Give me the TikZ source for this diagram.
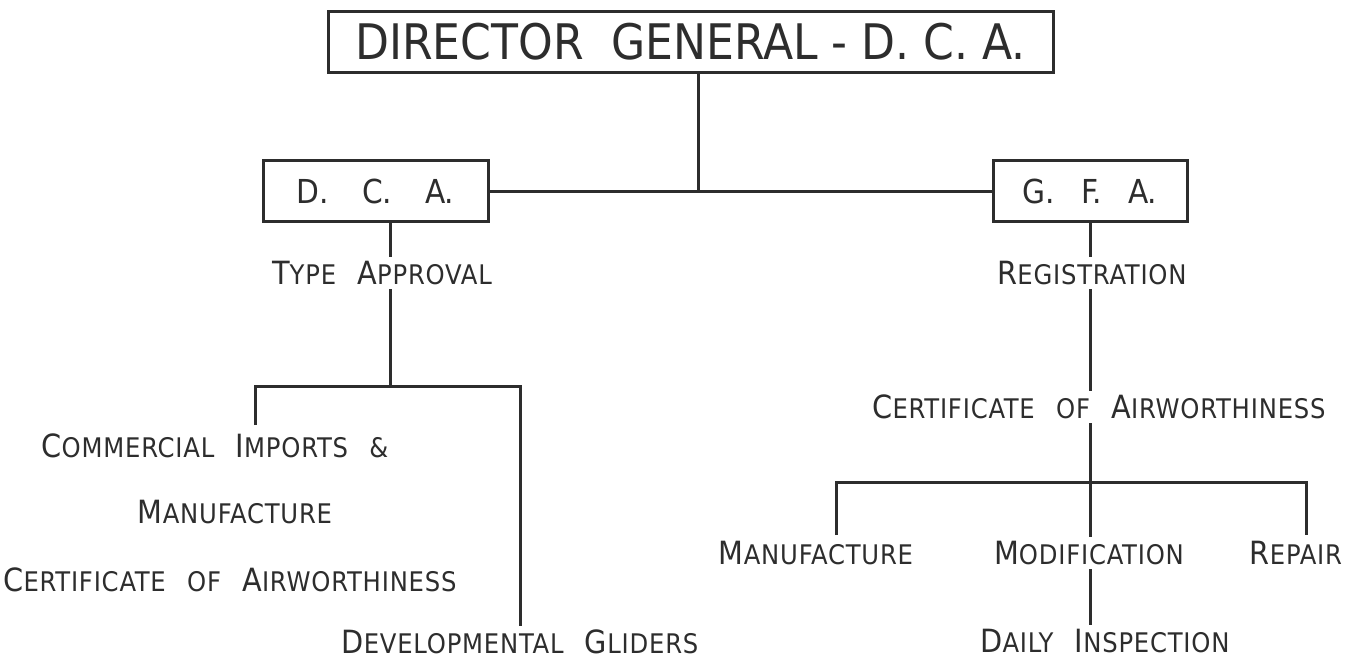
\documentclass[tikz,border=0pt]{standalone}
\usepackage{fontspec}
\setmainfont{DejaVu Sans Condensed}[LetterSpace=3,WordSpace=2.5]
\newfontfamily\headfont{DejaVu Sans Condensed}
\usepackage{tikz}
\usetikzlibrary{positioning}
\definecolor{inkDark}{RGB}{45,45,45}
\newcommand{\Lc}[1]{{\fontsize{32}{34}\selectfont #1}}

\begin{document}
\begin{tikzpicture}[x=1pt,y=-1pt,
  every node/.style={text=inkDark, font=\fontsize{27}{30}\selectfont, inner sep=4pt},
  label/.style={text height=23pt, text depth=1pt},
  orgbox/.style={draw=inkDark, line width=3pt, minimum height=61pt, inner sep=0pt},
  link/.style={draw=inkDark, line width=3pt}]
\useasboundingbox (0,0) rectangle (1353,659);
\node[orgbox, minimum width=725pt, font=\headfont\fontsize{49}{52}\selectfont] (dg) at (690.5,42) {DIRECTOR\ \ GENERAL - D. C. A.};
\node[orgbox, minimum width=225pt, font=\headfont\fontsize{33}{36}\selectfont] (dca) at (375.5,191) {D.\quad C.\quad A.};
\node[orgbox, minimum width=194pt, font=\headfont\fontsize{33}{36}\selectfont] (gfa) at (1090,191) {G.\enspace\ F.\enspace\ A.};
\node[label] (type) at (382,273) {\Lc{T}YPE \Lc{A}PPROVAL};
\node[label] (imp) at (215,446) {\Lc{C}OMMERCIAL \Lc{I}MPORTS \&};
\node[label] (manl) at (235,512) {\Lc{M}ANUFACTURE};
\node[label] (coal) at (230,580) {\Lc{C}ERTIFICATE OF \Lc{A}IRWORTHINESS};
\node[label] (dev) at (520,642) {\Lc{D}EVELOPMENTAL \Lc{G}LIDERS};
\node[label] (reg) at (1092,273) {\Lc{R}EGISTRATION};
\node[label] (coar) at (1099,407) {\Lc{C}ERTIFICATE OF \Lc{A}IRWORTHINESS};
\node[label] (manr) at (816,553) {\Lc{M}ANUFACTURE};
\node[label] (mod) at (1089,553) {\Lc{M}ODIFICATION};
\node[label] (rep) at (1296,553) {\Lc{R}EPAIR};
\node[label] (dly) at (1105,641) {\Lc{D}AILY \Lc{I}NSPECTION};
\coordinate (dgx) at (698,0);
\coordinate (lt) at (390,386);
\coordinate (impj) at (255,425);
\coordinate (rt) at (1090,482);
\coordinate (mj) at (836,535);
\coordinate (rj) at (1306,535);
\draw[link] (dg.south -| dgx) -- (dgx |- dca);
\draw[link] (dca) -- (gfa);
\draw[link] (dca.south -| lt) -- (type.north -| lt);
\draw[link] (type.south -| lt) -- (lt);
\draw[link] (impj) |- (lt) -| (dev.north);
\draw[link] (gfa.south -| rt) -- (reg.north -| rt);
\draw[link] (reg.south -| rt) -- (coar.north -| rt);
\draw[link] (coar.south -| rt) -- (mod.north -| rt);
\draw[link] (mj) |- (rt) -| (rj);
\draw[link] (mod.south -| rt) -- (dly.north -| rt);
\end{tikzpicture}
\end{document}
